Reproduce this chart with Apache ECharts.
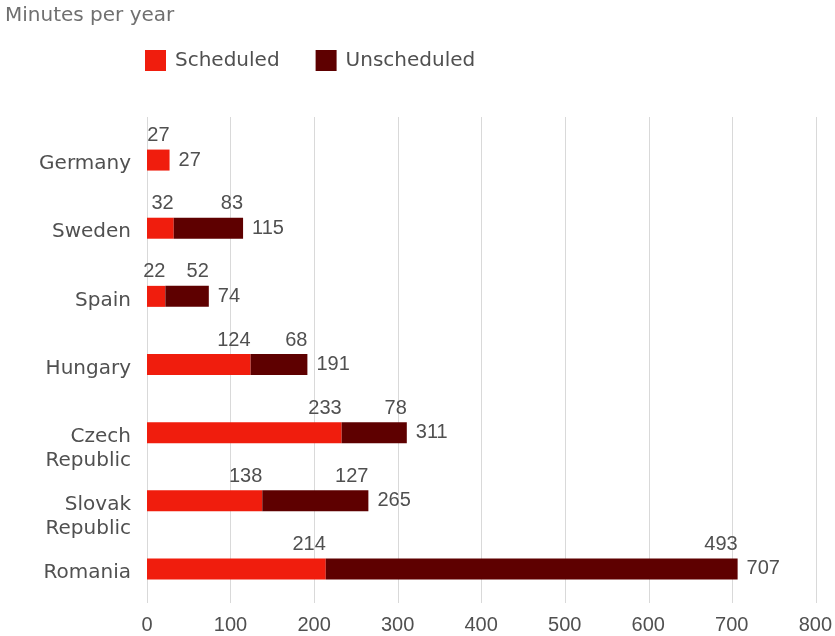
<!DOCTYPE html>
<html>
<head>
<meta charset="utf-8">
<script src="https://cdn.jsdelivr.net/npm/echarts@6/dist/echarts.min.js"></script>
<style>
  html, body { margin: 0; padding: 0; background: #fff; }
  #chart { width: 835px; height: 636px; }
</style>
</head>
<body>
<div id="chart"></div>
<script>
const countries = ["Germany", "Sweden", "Spain", "Hungary", "Czech\nRepublic", "Slovak\nRepublic", "Romania"];
const scheduled = [27, 32, 22, 124, 233, 138, 214];
const unscheduled = [0, 83, 52, 68, 78, 127, 493];
// totals as printed on the chart (rounded in the source, so Hungary reads 191)
const totals = [27, 115, 74, 191, 311, 265, 707];
const xTicks = [0, 100, 200, 300, 400, 500, 600, 700, 800];

const numFont = "'Liberation Sans', Arial, sans-serif";
const textFont = "'DejaVu Sans', sans-serif";
const textColor = "#505050";

// value label sitting above the bar, right edge at the segment's end
const topLabel = {
  show: true,
  position: ["100%", 0],
  align: "right",
  verticalAlign: "bottom",
  offset: [0, -4],
  color: textColor,
  fontSize: 20,
  fontFamily: numFont,
  formatter: (p) => (p.value > 0 ? p.value : ""),
};

const nameStyle = { color: textColor, fontSize: 20, fontFamily: textFont };

const chart = echarts.init(document.getElementById("chart"));

chart.setOption({
  animation: false,
  title: {
    text: "Minutes per year",
    left: 0,
    top: 1,
    textStyle: { color: "#707070", fontSize: 20, fontWeight: "normal", fontFamily: textFont },
  },
  legend: {
    left: 140,
    top: 45,
    itemWidth: 21,
    itemHeight: 21,
    itemGap: 36,
    icon: "rect",
    textStyle: { color: textColor, fontSize: 20, fontFamily: textFont, padding: [0, 0, 0, 4] },
    data: ["Scheduled", "Unscheduled"],
  },
  // grid 0 holds the bars, grid 1 only draws the taller vertical gridlines
  grid: [
    { left: 147, right: 19, top: 126, bottom: 33 },
    { left: 147, right: 19, top: 117, bottom: 33 },
  ],
  xAxis: [
    {
      type: "value",
      min: xTicks[0],
      max: xTicks[xTicks.length - 1],
      interval: 100,
      axisLine: { show: false },
      axisTick: { show: false },
      splitLine: { show: false },
      axisLabel: { color: textColor, fontSize: 20, fontFamily: numFont, margin: 12 },
    },
    {
      type: "value",
      gridIndex: 1,
      min: xTicks[0],
      max: xTicks[xTicks.length - 1],
      interval: 100,
      axisLine: { show: false },
      axisTick: { show: false },
      axisLabel: { show: false },
      splitLine: { lineStyle: { color: "#d9d9d9", width: 1 } },
    },
  ],
  yAxis: [
    {
      type: "category",
      inverse: true,
      data: countries,
      axisLine: { show: false },
      axisTick: { show: false },
      axisLabel: {
        interval: 0,
        margin: 16,
        verticalAlign: "top",
        color: textColor,
        fontSize: 20,
        fontFamily: textFont,
        // first line sits just below the bar centre, second line hangs underneath
        formatter: (v) => v.split("\n").map((s, i) => (i === 0 ? "{a|" + s + "}" : "{b|" + s + "}")).join("\n"),
        rich: {
          a: Object.assign({ lineHeight: 8 }, nameStyle),
          b: Object.assign({ lineHeight: 40 }, nameStyle),
        },
      },
    },
    {
      type: "value",
      gridIndex: 1,
      min: 0,
      max: 1,
      show: false,
    },
  ],
  series: [
    {
      name: "Scheduled",
      type: "bar",
      stack: "total",
      barWidth: 21,
      z: 3,
      itemStyle: { color: "#f01d0d" },
      label: topLabel,
      data: scheduled,
    },
    {
      name: "Unscheduled",
      type: "bar",
      stack: "total",
      barWidth: 21,
      z: 3,
      itemStyle: { color: "#5e0000" },
      label: topLabel,
      data: unscheduled,
    },
    {
      name: "Total",
      type: "bar",
      stack: "total",
      barWidth: 21,
      z: 3,
      itemStyle: { color: "transparent" },
      label: {
        show: true,
        position: "right",
        distance: 9,
        color: textColor,
        fontSize: 20,
        fontFamily: numFont,
        formatter: (p) => totals[p.dataIndex],
      },
      data: totals.map(() => 0),
    },
  ],
});
</script>
</body>
</html>
